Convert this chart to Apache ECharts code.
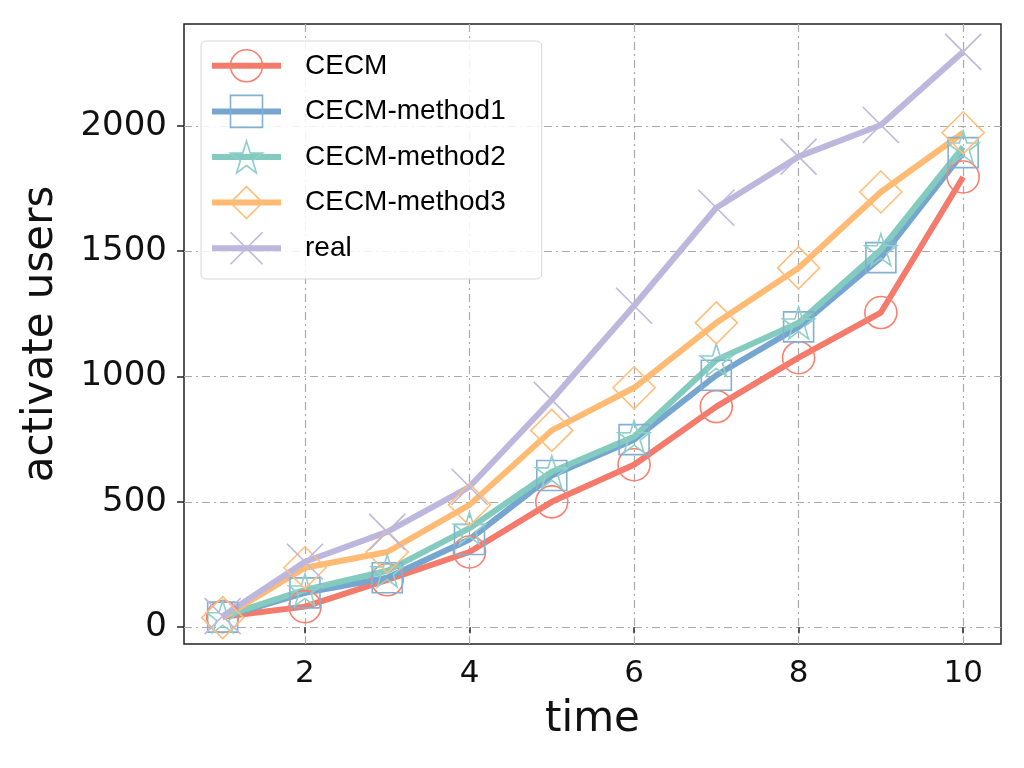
<!DOCTYPE html>
<html>
<head>
<meta charset="utf-8">
<script src="https://cdn.jsdelivr.net/npm/echarts@6/dist/echarts.min.js"></script>
<style>
  html, body { margin: 0; padding: 0; background: #fff; }
  #main { width: 1024px; height: 768px; }
</style>
</head>
<body>
<div id="main"></div>
<script>
// time steps and series values
var times = [1, 2, 3, 4, 5, 6, 7, 8, 9, 10];
var cecm = [42, 82, 189, 300, 500, 648, 880, 1075, 1255, 1796];
var method1 = [40, 137, 197, 350, 605, 748, 1005, 1198, 1474, 1893];
var method2 = [42, 149, 225, 395, 620, 760, 1066, 1214, 1506, 1916];
var method3 = [38, 237, 300, 488, 785, 955, 1214, 1433, 1736, 1972];
var real = [44, 261, 380, 560, 907, 1282, 1673, 1877, 2003, 2295];

var xTicks = [2, 4, 6, 8, 10];
var yTicks = [0, 500, 1000, 1500, 2000];

var names = ['CECM', 'CECM-method1', 'CECM-method2', 'CECM-method3', 'real'];
var colors = ['#FA7F6F', '#82B0D2', '#8ECFC9', '#FFBE7A', '#BEB8DC'];
var lineColors = ['#F47A6C', '#76A6D0', '#82CBBE', '#FFBA74', '#BDB7DD'];

var STAR = 'path://M50,2 L61,36 L97,36 L68,57 L79,92 L50,71 L21,92 L32,57 L3,36 L39,36 Z';
var CROSS = 'path://M0,0 L100,100 M100,0 L0,100';
var symbols = ['circle', 'rect', STAR, 'diamond', CROSS];
var sizes = [32, 30, 32, 42, 36];
var values = [cecm, method1, method2, method3, real];

function pairs(arr) {
    return times.map(function (t, i) { return [t, arr[i]]; });
}

var myChart = echarts.init(document.getElementById('main'));

var series = names.map(function (n, i) {
    return {
        name: n,
        type: 'line',
        data: pairs(values[i]),
        symbol: symbols[i],
        symbolSize: sizes[i],
        lineStyle: { color: lineColors[i], width: 6 },
        itemStyle: { color: 'rgba(255,255,255,0)', borderColor: colors[i], borderWidth: 1.6 },
        emphasis: { disabled: true },
        animation: false
    };
});

var option = {
    backgroundColor: '#fff',
    animation: false,
    grid: {
        left: 184,
        right: 23,
        top: 24,
        bottom: 124,
        show: true,
        borderColor: '#222',
        borderWidth: 1.5,
        backgroundColor: '#fff'
    },
    legend: {
        orient: 'vertical',
        left: 201,
        top: 41,
        data: names,
        itemWidth: 69,
        itemHeight: 40,
        itemGap: 12,
        padding: [8, 36, 14, 8],
        backgroundColor: 'rgba(255,255,255,0.85)',
        borderColor: '#d6d6d6',
        borderWidth: 1,
        borderRadius: 5,
        lineStyle: { width: 6 },
        itemStyle: { borderWidth: 1.6 },
        textStyle: {
            fontFamily: 'Liberation Sans',
            fontSize: 28,
            color: '#000',
            padding: [0, 0, 0, 19]
        }
    },
    xAxis: {
        type: 'value',
        min: 0.53,
        max: 10.46,
        name: 'time',
        nameLocation: 'middle',
        nameGap: 55,
        nameTextStyle: { fontFamily: 'DejaVu Sans', fontSize: 42, color: '#111' },
        axisLine: { show: false },
        axisTick: { show: true, length: 6, lineStyle: { color: '#222', width: 1.5 }, customValues: xTicks },
        axisLabel: {
            customValues: xTicks,
            margin: 14,
            fontFamily: 'DejaVu Sans',
            fontSize: 31,
            color: '#111',
            formatter: function (v) { return String(v); }
        },
        splitLine: { show: true, lineStyle: { color: '#aaa', width: 1.2, type: [8, 4, 2, 4] } }
    },
    yAxis: {
        type: 'value',
        min: -67,
        max: 2406,
        name: 'activate users',
        nameLocation: 'middle',
        nameGap: 122,
        nameTextStyle: { fontFamily: 'DejaVu Sans', fontSize: 42, color: '#111' },
        axisLine: { show: false },
        axisTick: { show: true, length: 7, lineStyle: { color: '#222', width: 1.5 }, customValues: yTicks },
        axisLabel: {
            customValues: yTicks,
            margin: 17,
            fontFamily: 'DejaVu Sans',
            fontSize: 34,
            color: '#111',
            formatter: function (v) { return String(v); }
        },
        splitLine: { show: true, lineStyle: { color: '#aaa', width: 1.2, type: [8, 4, 2, 4] } }
    },
    series: series
};

myChart.setOption(option);
</script>
</body>
</html>
